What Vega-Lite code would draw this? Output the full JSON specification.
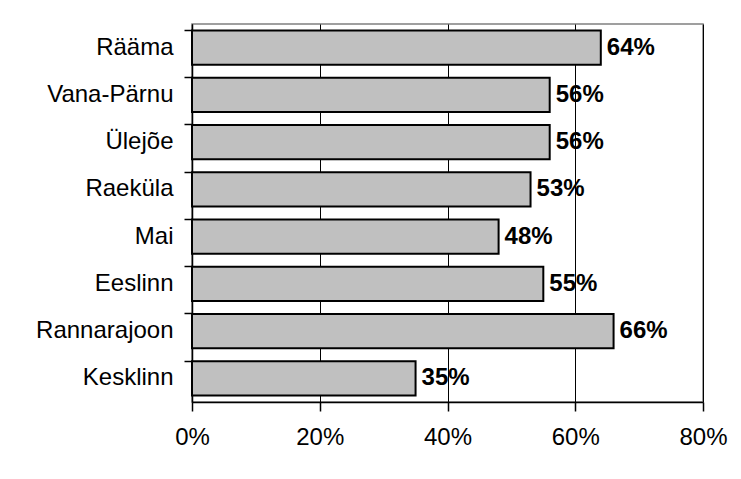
{
  "$schema": "https://vega.github.io/schema/vega-lite/v6.json",
  "autosize": "none",
  "padding": {"left": 192, "top": 24, "right": 38, "bottom": 76},
  "width": 511,
  "height": 378,
  "background": "white",
  "config": {
    "font": "Liberation Sans",
    "view": {"stroke": "#808080", "strokeWidth": 1.5}
  },
  "data": {
    "values": [
      {"district": "Rääma", "share": 0.64},
      {"district": "Vana-Pärnu", "share": 0.56},
      {"district": "Ülejõe", "share": 0.56},
      {"district": "Raeküla", "share": 0.53},
      {"district": "Mai", "share": 0.48},
      {"district": "Eeslinn", "share": 0.55},
      {"district": "Rannarajoon", "share": 0.66},
      {"district": "Kesklinn", "share": 0.35}
    ]
  },
  "encoding": {
    "y": {
      "field": "district",
      "type": "nominal",
      "sort": null,
      "title": null,
      "scale": {"paddingInner": 0.27, "paddingOuter": 0.135},
      "axis": {
        "bandPosition": 0,
        "domainColor": "black",
        "domainWidth": 1.5,
        "tickColor": "black",
        "tickSize": 8,
        "tickWidth": 1.5,
        "labelFontSize": 24,
        "labelColor": "black",
        "labelPadding": 11,
        "grid": false
      }
    },
    "x": {
      "field": "share",
      "type": "quantitative",
      "title": null,
      "scale": {"domain": [0, 0.8], "nice": false},
      "axis": {
        "values": [0, 0.2, 0.4, 0.6, 0.8],
        "format": ".0%",
        "domainColor": "black",
        "domainWidth": 1.5,
        "tickColor": "black",
        "tickSize": 9,
        "tickWidth": 1.5,
        "labelFontSize": 24,
        "labelColor": "black",
        "labelPadding": 14,
        "labelFlush": false,
        "grid": true,
        "gridColor": "black",
        "gridWidth": 1,
        "gridOpacity": 1
      }
    }
  },
  "layer": [
    {
      "mark": {"type": "bar", "fill": "#c0c0c0", "stroke": "black", "strokeWidth": 2}
    },
    {
      "mark": {"type": "text", "align": "left", "baseline": "middle", "dx": 6, "fontSize": 24, "fontWeight": "bold", "color": "black"},
      "encoding": {
        "text": {"field": "share", "type": "quantitative", "format": ".0%"}
      }
    }
  ]
}
